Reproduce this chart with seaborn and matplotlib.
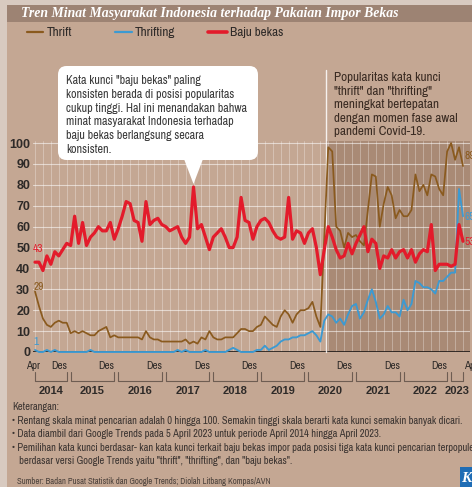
import numpy as np
import pandas as pd
import matplotlib
matplotlib.use("Agg")
import matplotlib.pyplot as plt
import seaborn as sns
from matplotlib import font_manager as fm
from matplotlib.patches import Rectangle, FancyBboxPatch, Polygon
from matplotlib.lines import Line2D

# ---------------- data (Google Trends index, monthly Apr 2014 - Apr 2023) -------------
months = pd.date_range("2014-04-01", "2023-04-01", freq="MS")

thrift = [29, 22, 16, 13, 12, 14, 15, 14, 14, 9, 10, 9, 10, 9, 8, 8, 10, 11, 12, 7,
          8, 7, 7, 7, 7, 7, 7, 6, 10, 7, 6, 6, 5, 5, 5, 5, 5, 5, 6, 4,
          5, 4, 7, 6, 10, 7, 6, 6, 7, 7, 7, 9, 11, 11, 10, 10, 12, 13, 17, 15,
          13, 12, 17, 20, 18, 14, 18, 20, 20, 21, 24, 17, 12, 55, 98, 96, 60, 58, 50, 57,
          55, 56, 53, 51, 68, 85, 84, 60, 71, 79, 75, 64, 68, 65, 65, 68, 85, 77, 80, 75,
          85, 84, 78, 75, 96, 100, 92, 98, 89]

thrifting = [1, 0, 0, 1, 0, 1, 0, 0, 0, 0, 0, 0, 0, 0, 1, 0, 0, 0, 0, 0,
             0, 0, 0, 0, 0, 0, 0, 0, 0, 0, 0, 0, 0, 0, 0, 0, 1, 0, 1, 0,
             0, 0, 0, 1, 0, 0, 0, 0, 0, 1, 2, 1, 0, 0, 0, 0, 1, 1, 3, 1,
             2, 3, 5, 6, 6, 7, 7, 8, 8, 9, 10, 8, 5, 15, 18, 17, 14, 16, 13, 18,
             22, 23, 16, 19, 25, 30, 24, 16, 18, 22, 19, 19, 17, 25, 20, 23, 34, 33, 31, 31,
             30, 28, 34, 34, 36, 38, 38, 78, 65]

baju_bekas = [43, 43, 39, 46, 42, 48, 46, 49, 52, 51, 65, 52, 62, 51, 55, 57, 60, 58, 58, 62,
              54, 59, 65, 72, 71, 63, 62, 53, 72, 61, 63, 64, 61, 60, 58, 59, 60, 55, 52, 55,
              79, 59, 61, 55, 49, 55, 57, 59, 55, 50, 50, 55, 74, 63, 62, 54, 60, 63, 64, 62,
              58, 55, 54, 55, 74, 54, 58, 57, 52, 57, 59, 50, 37, 49, 60, 55, 49, 45, 46, 52,
              47, 52, 56, 60, 48, 54, 52, 40, 46, 45, 49, 45, 48, 49, 45, 49, 43, 47, 49, 48,
              61, 39, 42, 42, 42, 41, 42, 61, 53]

series_names = ["Thrift", "Thrifting", "Baju bekas"]
series_colors = ["#8a5a1e", "#3c9ad2", "#e31b2b"]
y_ticks = list(range(0, 101, 10))
years = list(range(2014, 2024))

title = "Tren Minat Masyarakat Indonesia terhadap Pakaian Impor Bekas"
note1 = ['Kata kunci ', '"baju bekas"', ' paling']
note1_rest = ["konsisten berada di posisi popularitas",
              "cukup tinggi. Hal ini menandakan bahwa",
              "minat masyarakat Indonesia terhadap",
              "baju bekas berlangsung secara",
              "konsisten."]
note2 = ["Popularitas kata kunci",
         '"thrift" dan "thrifting"',
         "meningkat bertepatan",
         "dengan momen fase awal",
         "pandemi Covid-19."]
footnotes = ["Keterangan:",
             "\u2022 Rentang skala minat pencarian adalah 0 hingga 100. Semakin tinggi skala berarti kata kunci semakin banyak dicari.",
             "\u2022 Data diambil dari Google Trends pada 5 April 2023 untuk periode April 2014 hingga April 2023.",
             "\u2022 Pemilihan kata kunci berdasar- kan kata kunci terkait baju bekas impor pada posisi tiga kata kunci pencarian terpopuler",
             "   berdasar versi Google Trends yaitu \"thrift\", \"thrifting\", dan \"baju bekas\"."]
source = "Sumber: Badan Pusat Statistik dan Google Trends; Diolah Litbang Kompas/AVN"

# ---------------- fonts ---------------------------------------------------------------
sns.set_theme(style="white")
flist = fm.fontManager.ttflist
names = {f.name for f in flist}
if "Liberation Sans Narrow" in names:
    NARROW = "Liberation Sans Narrow"
else:
    cond = sorted({f.name for f in flist if "Condensed" in f.name or "Narrow" in f.name})
    if cond:
        NARROW = cond[0]
    elif "Roboto" in names:
        NARROW = "Roboto"
    else:
        NARROW = "DejaVu Sans"
SANS = "Liberation Sans" if "Liberation Sans" in names else "DejaVu Sans"
SERIF = "Liberation Serif" if "Liberation Serif" in names else "DejaVu Serif"
plt.rcParams["font.family"] = [NARROW, "DejaVu Sans"]

BG = "#c4a793"
SHADE = "#a98a75"
BANNER = "#9d8373"
TXT = "#2e2a28"

W, H = 472, 487
fx = lambda x: x / W
fy = lambda y: 1 - y / H

fig = plt.figure(figsize=(W / 100, H / 100), dpi=100)
fig.patch.set_facecolor(BG)
fig.canvas.draw()
renderer = fig.canvas.get_renderer()


def fit(txt, target, base=8.0, **kw):
    t = fig.text(0, 0, txt, fontsize=base, **kw)
    w = t.get_window_extent(renderer=renderer).width
    t.remove()
    return base * target / max(w, 1)


# light edges & banner
fig.add_artist(Rectangle((0, fy(5)), 1, 5 / H, transform=fig.transFigure, color="#d8cac0", lw=0, zorder=0))
fig.add_artist(Rectangle((0, 0), 7 / W, 1, transform=fig.transFigure, color="#d8cac0", lw=0, zorder=0))
fig.add_artist(Rectangle((fx(7), fy(21.5)), 1, 16.5 / H, transform=fig.transFigure, color=BANNER, lw=0, zorder=1))
tkw = dict(family=[SERIF, "DejaVu Serif"], style="italic", weight="bold")
fig.text(fx(21), fy(13.5), title, fontsize=fit(title, 381, **tkw), color="white",
         va="center", ha="left", zorder=2, **tkw)

# legend
leg_size = fit("Thrifting", 40)
leg_items = [(27, 43, 47), (115, 132, 135), (208, 227, 230)]
leg_lw = [1.6, 1.6, 2.6]
for (x0, x1, xt), name, col, lw in zip(leg_items, series_names, series_colors, leg_lw):
    fig.add_artist(Line2D([fx(x0), fx(x1)], [fy(32), fy(32)], transform=fig.transFigure, color=col, lw=lw))
    fig.text(fx(xt), fy(32.5), name, fontsize=leg_size, color=TXT, va="center", ha="left")

# ---------------- axes ----------------------------------------------------------------
L, R, T, B = 33, 470, 141, 352
ax = fig.add_axes([fx(L), fy(B), (R - L) / W, (B - T) / H])
ax.set_facecolor(BG)
ppm = (463 - 35) / 108.0
xmin = -(35 - L) / ppm
xmax = 108 + (R - 463) / ppm
ax.set_xlim(xmin, xmax)
ax.set_ylim(0, 101)
for s in ax.spines.values():
    s.set_visible(False)

covid_start = 73.5
ax.axvspan(covid_start, xmax, color=SHADE, lw=0, zorder=0)
for yv in y_ticks[1:]:
    ax.axhline(yv, color="white", lw=0.8, alpha=0.55, zorder=1)
for xv in range(0, 109, 2):
    ax.axvline(xv, color="white", lw=0.6, alpha=0.35, zorder=1)
ax.axhline(0, color="#1e1a18", lw=1.2, zorder=2)

df = pd.DataFrame({"idx": np.arange(len(months)), "date": months,
                   "Thrift": thrift, "Thrifting": thrifting, "Baju bekas": baju_bekas})
long = df.melt(id_vars=["idx", "date"], value_vars=series_names, var_name="series", value_name="value")
line_w = {"Thrift": 1.25, "Thrifting": 1.35, "Baju bekas": 2.3}
for name, col in zip(series_names, series_colors):
    sns.lineplot(data=long[long["series"] == name], x="idx", y="value", color=col,
                 lw=line_w[name], ax=ax, zorder=4, clip_on=False, legend=False)

ax.set_xlabel("")
ax.set_ylabel("")
ax.set_yticks(y_ticks)
bkw = dict(family=[SANS, "DejaVu Sans"], weight="bold")
ytick_size = fit("100", 21, **bkw)
ax.set_yticklabels([str(v) for v in y_ticks], fontsize=ytick_size, color=TXT, **bkw)
ax.tick_params(axis="y", length=0, pad=2)
ax.set_xticks([])

# start / end labels
lab_size = fit("43", 10.5)
start_off = {"Thrift": 2.3, "Thrifting": 3.8, "Baju bekas": 6.5}
end_off = {"Thrift": 5.0, "Thrifting": -0.5, "Baju bekas": -0.5}
for name, col in zip(series_names, series_colors):
    vals = df[name].values
    ax.text(-0.45, vals[0] + start_off[name], str(vals[0]), color=col, fontsize=lab_size,
            ha="left", va="center", clip_on=False, zorder=6)
    ax.text(108.4, vals[-1] + end_off[name], str(vals[-1]), color=col, fontsize=lab_size,
            ha="left", va="center", clip_on=False, zorder=6)

# x axis labels and year brackets
tr = ax.get_xaxis_transform()
af = lambda ypx: (B - ypx) / (B - T)
des_size = fit("Des", 16, weight="bold")
year_size = fit("2014", 25, **bkw)
ax.text(-0.4, af(366), "Apr", transform=tr, ha="center", va="center", fontsize=des_size,
        weight="bold", color=TXT, clip_on=False)
ax.text(108.2, af(366), "Apr", transform=tr, ha="left", va="center", fontsize=des_size,
        weight="bold", color=TXT, clip_on=False)
for yr in years:
    jan = (yr - 2014) * 12 - 3
    dec = jan + 11
    s = max(0, jan)
    e = min(108, dec)
    if yr < 2023:
        ax.text(dec + 0.1, af(366), "Des", transform=tr, ha="right", va="center", fontsize=des_size,
                weight="bold", color=TXT, clip_on=False)
    ax.plot([s, s, e, e], [af(372), af(381), af(381), af(372)], transform=tr,
            color="#6e5d52", lw=0.8, clip_on=False)
    ax.text((s + e) / 2, af(391), str(yr), transform=tr, ha="center", va="center",
            fontsize=year_size, color=TXT, clip_on=False, **bkw)

# covid marker line & note
ax.plot([covid_start, covid_start], [0, af(70)], transform=tr, color="white", lw=1.0,
        alpha=0.85, clip_on=False, zorder=3)
n2_size = fit(note2[3], 124, weight="medium")
for k, line in enumerate(note2):
    fig.text(fx(334), fy(77.5 + k * 13.6), line, fontsize=n2_size, weight="medium",
             color="#3a2b22", va="center", ha="left")

# annotation box for baju bekas
tip_disp = ax.transData.transform((40, baju_bekas[40]))
tip = fig.transFigure.inverted().transform(tip_disp)
box = FancyBboxPatch((fx(58), fy(160)), (258 - 58) / W, (160 - 66) / H,
                     boxstyle="round,pad=0,rounding_size=0.018", transform=fig.transFigure,
                     facecolor="white", edgecolor="none", zorder=8)
fig.add_artist(box)
tri = Polygon([(fx(184), fy(159)), (fx(203), fy(159)), (tip[0], tip[1] + 3 / H)],
              closed=True, transform=fig.transFigure, facecolor="white", edgecolor="none", zorder=8)
fig.add_artist(tri)
n1_size = fit(note1_rest[1], 180)
xcur = 66
for txt, wt in zip(note1, ["normal", "bold", "normal"]):
    t = fig.text(fx(xcur), fy(80.5), txt, fontsize=n1_size, weight=wt, color="#3a3a3a",
                 va="center", ha="left", zorder=9)
    xcur += t.get_window_extent(renderer=renderer).width
for k, line in enumerate(note1_rest):
    fig.text(fx(66), fy(80.5 + (k + 1) * 13.8), line, fontsize=n1_size, color="#3a3a3a",
             va="center", ha="left", zorder=9)

# footnotes
fn_size = fit(footnotes[1], 451)
fig.text(fx(12), fy(407), footnotes[0], fontsize=fn_size, color="#3a3330", va="center", ha="left")
for k, line in enumerate(footnotes[1:]):
    fig.text(fx(12), fy(421 + k * 13.4), line, fontsize=fn_size, color="#3a3330", va="center", ha="left")
src_size = fit(source, 253)
fig.text(fx(17), fy(482), source, fontsize=src_size, color="#4a403a", va="center", ha="left")

# logo
fig.add_artist(Rectangle((fx(460), 0), 12 / W, 20 / H, transform=fig.transFigure,
                         color="#1f6db5", lw=0, zorder=5))
fig.text(fx(461), fy(478), "K", family=[SERIF, "DejaVu Serif"], style="italic", weight="bold",
         fontsize=11, color="white", va="center", ha="left", zorder=6)

fig.savefig("out.png", dpi=100, facecolor=fig.get_facecolor())
